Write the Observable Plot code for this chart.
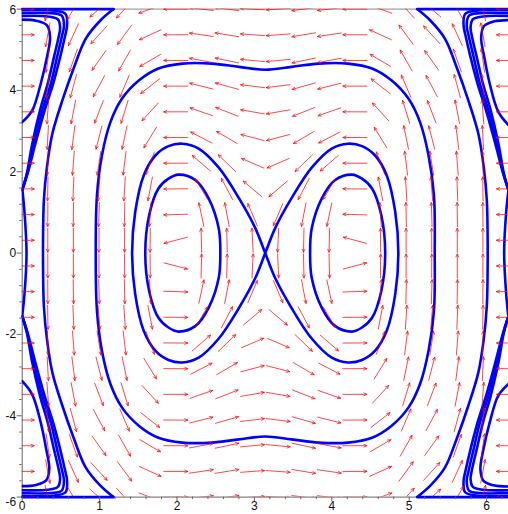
<!DOCTYPE html>
<html><head><meta charset="utf-8">
<script src="https://cdn.jsdelivr.net/npm/d3@7"></script>
<script src="https://cdn.jsdelivr.net/npm/@observablehq/plot@0.6"></script>
<style>html,body{margin:0;padding:0;background:#fff;}#chart svg{display:block;}</style>
</head><body><div id="chart"></div>
<script>
const TWO_PI = 2 * Math.PI;

// ---- axis ticks ----
const xTicks = [0, 1, 2, 3, 4, 5, 6];
const yTicks = [-6, -4, -2, 0, 2, 4, 6];
const xMinorTicks = [0.2,0.4,0.6,0.8,1.2,1.4,1.6,1.8,2.2,2.4,2.6,2.8,3.2,3.4,3.6,3.8,4.2,4.4,4.6,4.8,5.2,5.4,5.6,5.8,6.2];
const yMinorTicks = [-5.6,-5.2,-4.8,-4.4,-3.6,-3.2,-2.8,-2.4,-1.6,-1.2,-0.8,-0.4,0.4,0.8,1.2,1.6,2.4,2.8,3.2,3.6,4.4,4.8,5.2,5.6];

// ---- direction field (20 x 20 grid), estimated from the arrows ----
const gridColumns = 20;
const gridRows = 20;
// vertical pull per column (left to right)
const columnPull = [0, -300, -120, -60, -75, -25, -0.05, 8, 9, 4, -4, -9, -8, 0.05, 25, 75, 60, 120, 300, 0];
// horizontal drift per row (bottom to top)
const rowDrift = [-36, -28.82, -22.44, -16.85, -12.07, -8.08, -4.89, -2.49, -0.897, -0.0998,
                  0.0998, 0.897, 2.49, 4.89, 8.08, 12.07, 16.85, 22.44, 28.82, 36];
// heading of the arrows on the left and right edge columns
const edgeHeading = [1, -1];

// ---- solution curves ----
const innerLeft = [[1.59,0],[1.64,0.93],[1.76,1.59],[1.89,1.83],[2.02,1.93],[2.24,1.79],[2.41,1.34],[2.54,0.6],[2.56,0],[2.54,-0.6],[2.41,-1.34],[2.24,-1.79],[2.02,-1.93],[1.89,-1.83],[1.76,-1.59],[1.64,-0.93]];
const innerRight = [[4.69,0],[4.64,0.93],[4.52,1.59],[4.39,1.83],[4.26,1.93],[4.04,1.79],[3.87,1.34],[3.74,0.6],[3.72,0],[3.74,-0.6],[3.87,-1.34],[4.04,-1.79],[4.26,-1.93],[4.39,-1.83],[4.52,-1.59],[4.64,-0.93]];
const figureEight = [[3.14,0],[3.01,0.62],[2.8,1.35],[2.54,2.1],[2.28,2.57],[2.07,2.69],[1.89,2.63],[1.72,2.4],[1.57,1.91],[1.46,1.01],[1.42,0],[1.46,-1.01],[1.57,-1.91],[1.72,-2.4],[1.89,-2.63],[2.07,-2.69],[2.28,-2.57],[2.54,-2.1],[2.8,-1.35],[3.01,-0.62],
  [3.14,0],[3.27,0.62],[3.48,1.35],[3.74,2.1],[4,2.57],[4.21,2.69],[4.39,2.63],[4.56,2.4],[4.71,1.91],[4.82,1.01],[4.86,0],[4.82,-1.01],[4.71,-1.91],[4.56,-2.4],[4.39,-2.63],[4.21,-2.69],[4,-2.57],[3.74,-2.1],[3.48,-1.35],[3.27,-0.62]];
const outerLoop = [[0.95,0],[0.966,1.42],[1.03,2.4],[1.14,3.22],[1.29,3.8],[1.51,4.25],[1.76,4.54],[2.07,4.66],[2.45,4.66],[2.8,4.58],[3.14,4.51],[3.48,4.58],[3.83,4.66],[4.21,4.66],[4.52,4.54],[4.77,4.25],[4.99,3.8],[5.14,3.22],[5.25,2.4],[5.32,1.42],
  [5.33,0],[5.32,-1.42],[5.25,-2.4],[5.14,-3.22],[4.99,-3.8],[4.77,-4.25],[4.52,-4.54],[4.21,-4.66],[3.83,-4.66],[3.48,-4.58],[3.14,-4.51],[2.8,-4.58],[2.45,-4.66],[2.07,-4.66],[1.76,-4.54],[1.51,-4.25],[1.29,-3.8],[1.14,-3.22],[1.03,-2.4],[0.966,-1.42]];
const sweepLeft = [[1.18,6],[1.01,5.72],[0.82,5.27],[0.67,4.57],[0.52,3.76],[0.39,2.94],[0.32,2.12],[0.28,1.3],[0.27,0.47],[0.27,-0.47],[0.28,-1.3],[0.32,-2.12],[0.39,-2.94],[0.52,-3.76],[0.67,-4.57],[0.82,-5.27],[1.01,-5.72],[1.18,-6]];
const sweepRight = [[5.103,6],[5.273,5.72],[5.463,5.27],[5.613,4.57],[5.763,3.76],[5.893,2.94],[5.963,2.12],[6.003,1.3],[6.013,0.47],[6.013,-0.47],[6.003,-1.3],[5.963,-2.12],[5.893,-2.94],[5.763,-3.76],[5.613,-4.57],[5.463,-5.27],[5.273,-5.72],[5.103,-6]];
const hookTopLeft = [[0,3.22],[0.13,3.51],[0.24,4.17],[0.32,4.82],[0.36,5.31],[0.32,5.6],[0.19,5.71],[0,5.74]];
const hookBottomLeft = [[0,-3.15],[0.13,-3.48],[0.24,-4.17],[0.31,-4.82],[0.35,-5.31],[0.31,-5.59],[0.18,-5.7],[0,-5.73]];
const hookTopRight = [[6.283,3.15],[6.15,3.48],[6.04,4.17],[5.97,4.82],[5.93,5.31],[5.97,5.59],[6.1,5.7],[6.283,5.73]];
const hookBottomRight = [[6.283,-3.22],[6.15,-3.51],[6.04,-4.17],[5.96,-4.82],[5.92,-5.31],[5.96,-5.6],[6.09,-5.71],[6.283,-5.74]];
const bundleTopLeft = [
  [[0,1.55],[0.06,1.96],[0.13,2.69],[0.23,3.51],[0.33,4.17],[0.41,4.82],[0.47,5.31],[0.49,5.55],[0.46,5.75],[0.33,5.82],[0,5.83]],
  [[0,1.55],[0.065,1.96],[0.15,2.69],[0.26,3.51],[0.37,4.17],[0.45,4.82],[0.51,5.31],[0.54,5.6],[0.51,5.84],[0.37,5.9],[0,5.9]],
  [[0,1.55],[0.07,1.96],[0.17,2.69],[0.29,3.51],[0.4,4.17],[0.49,4.82],[0.55,5.31],[0.58,5.6],[0.56,5.88],[0.42,5.96],[0,5.97]]];
const bundleBottomLeft = [
  [[0,-1.55],[0.06,-1.96],[0.13,-2.69],[0.23,-3.51],[0.33,-4.17],[0.41,-4.82],[0.47,-5.31],[0.49,-5.55],[0.46,-5.75],[0.33,-5.82],[0,-5.83]],
  [[0,-1.55],[0.065,-1.96],[0.15,-2.69],[0.26,-3.51],[0.37,-4.17],[0.45,-4.82],[0.51,-5.31],[0.54,-5.6],[0.51,-5.84],[0.37,-5.9],[0,-5.9]],
  [[0,-1.55],[0.07,-1.96],[0.17,-2.69],[0.29,-3.51],[0.4,-4.17],[0.49,-4.82],[0.55,-5.31],[0.58,-5.6],[0.56,-5.88],[0.42,-5.96],[0,-5.97]]];
const bundleTopRight = [
  [[6.283,1.55],[6.223,1.96],[6.153,2.69],[6.053,3.51],[5.953,4.17],[5.873,4.82],[5.813,5.31],[5.793,5.55],[5.823,5.75],[5.953,5.82],[6.283,5.83]],
  [[6.283,1.55],[6.218,1.96],[6.133,2.69],[6.023,3.51],[5.913,4.17],[5.833,4.82],[5.773,5.31],[5.743,5.6],[5.773,5.84],[5.913,5.9],[6.283,5.9]],
  [[6.283,1.55],[6.213,1.96],[6.113,2.69],[5.993,3.51],[5.883,4.17],[5.793,4.82],[5.733,5.31],[5.703,5.6],[5.723,5.88],[5.863,5.96],[6.283,5.97]]];
const bundleBottomRight = [
  [[6.283,-1.55],[6.223,-1.96],[6.153,-2.69],[6.053,-3.51],[5.953,-4.17],[5.873,-4.82],[5.813,-5.31],[5.793,-5.55],[5.823,-5.75],[5.953,-5.82],[6.283,-5.83]],
  [[6.283,-1.55],[6.218,-1.96],[6.133,-2.69],[6.023,-3.51],[5.913,-4.17],[5.833,-4.82],[5.773,-5.31],[5.743,-5.6],[5.773,-5.84],[5.913,-5.9],[6.283,-5.9]],
  [[6.283,-1.55],[6.213,-1.96],[6.113,-2.69],[5.993,-3.51],[5.883,-4.17],[5.793,-4.82],[5.733,-5.31],[5.703,-5.6],[5.723,-5.88],[5.863,-5.96],[6.283,-5.97]]];
const rimLeft = [[0,1.6],[0.03,1.0],[0.056,0],[0.03,-1.0],[0,-1.55]];
const rimRight = [[6.283,1.55],[6.253,1.0],[6.227,0],[6.253,-1.0],[6.283,-1.6]];
const clampSegments = [[[0,6],[1.18,6]], [[0,-6],[1.18,-6]], [[5.103,6],[6.283,6]], [[5.103,-6],[6.283,-6]]];

// ---- layout ----
const W = 508, H = 514;
const mL = 21.7, mR = 0, mT = 8.6, mB = 17.4;
const kx = (W - mL - mR) / TWO_PI;   // px per x unit
const ky = (H - mT - mB) / 12;       // px per y unit
const halfLen = 12;                  // half arrow length, px

const gx = d3.range(gridColumns).map(i => TWO_PI * i / (gridColumns - 1));
const gy = d3.range(gridRows).map(j => -6 + 12 * j / (gridRows - 1));
const arrows = [];
gx.forEach((x, i) => gy.forEach((y, j) => {
  let u = -rowDrift[j], v = columnPull[i];
  if (i === 0) { u = edgeHeading[0]; v = 0; }
  if (i === gridColumns - 1) { u = edgeHeading[1]; v = 0; }
  const sx = u * kx, sy = v * ky, m = Math.hypot(sx, sy) || 1;
  const dx = (sx / m) * halfLen / kx, dy = (sy / m) * halfLen / ky;
  arrows.push({x1: x - dx, y1: y - dy, x2: x + dx, y2: y + dy});
}));

const smooth = [
  {pts: innerLeft, closed: true}, {pts: innerRight, closed: true},
  {pts: figureEight, closed: true}, {pts: outerLoop, closed: true},
  {pts: sweepLeft}, {pts: sweepRight},
  {pts: hookTopLeft}, {pts: hookBottomLeft}, {pts: hookTopRight}, {pts: hookBottomRight},
  ...bundleTopLeft.map(p => ({pts: p})), ...bundleBottomLeft.map(p => ({pts: p})),
  ...bundleTopRight.map(p => ({pts: p})), ...bundleBottomRight.map(p => ({pts: p})),
  {pts: rimLeft}, {pts: rimRight}
];
const BLUE = "#0000ff";
const px = d => d[0], py = d => d[1];
const fmt = d => String(d);

const chart = Plot.plot({
  width: W, height: H,
  marginLeft: mL, marginRight: mR, marginTop: mT, marginBottom: mB,
  x: {domain: [0, TWO_PI]},
  y: {domain: [-6, 6]},
  style: {fontFamily: "'Liberation Sans', Arial, sans-serif", fontSize: "12px", color: "#111", background: "white"},
  marks: [
    Plot.ruleY([6], {stroke: "#888", strokeWidth: 1}),
    Plot.ruleX([0], {stroke: "#666", strokeWidth: 1}),
    Plot.ruleY([-6], {stroke: "#666", strokeWidth: 1}),
    ...smooth.map(c => Plot.line(c.pts, {x: px, y: py, curve: c.closed ? "catmull-rom-closed" : "catmull-rom", stroke: BLUE, strokeWidth: 2.6, clip: true})),
    ...clampSegments.map(s => Plot.line(s, {x: px, y: py, stroke: BLUE, strokeWidth: 2.6})),
    Plot.arrow(arrows, {x1: "x1", y1: "y1", x2: "x2", y2: "y2", stroke: "#ff0000", strokeWidth: 1, strokeOpacity: 0.72, headLength: 5, headAngle: 50, clip: true}),
    Plot.axisX(xTicks, {tickSize: 4.5, tickPadding: 0, tickFormat: fmt, label: null, stroke: "#666", fill: "#111"}),
    Plot.axisX(xMinorTicks, {tickSize: 2.5, tickFormat: () => "", label: null, stroke: "#666"}),
    Plot.axisY(yTicks.filter(t => Math.abs(t) !== 6), {tickSize: 5, tickPadding: 1, tickFormat: fmt, label: null, stroke: "#666", fill: "#111"}),
    Plot.axisY([-6, 6], {tickSize: 5, tickFormat: () => "", label: null, stroke: "#666"}),
    Plot.axisY(yMinorTicks, {tickSize: 2.5, tickFormat: () => "", label: null, stroke: "#666"}),
    Plot.text([6], {x: 0, y: d => d, text: fmt, textAnchor: "end", dx: -6, dy: 1.5, fill: "#111"}),
    Plot.text([-6], {x: 0, y: d => d, text: fmt, textAnchor: "end", dx: -6, dy: 5, fill: "#111"})
  ]
});
document.getElementById("chart").appendChild(chart);
</script>
</body></html>
